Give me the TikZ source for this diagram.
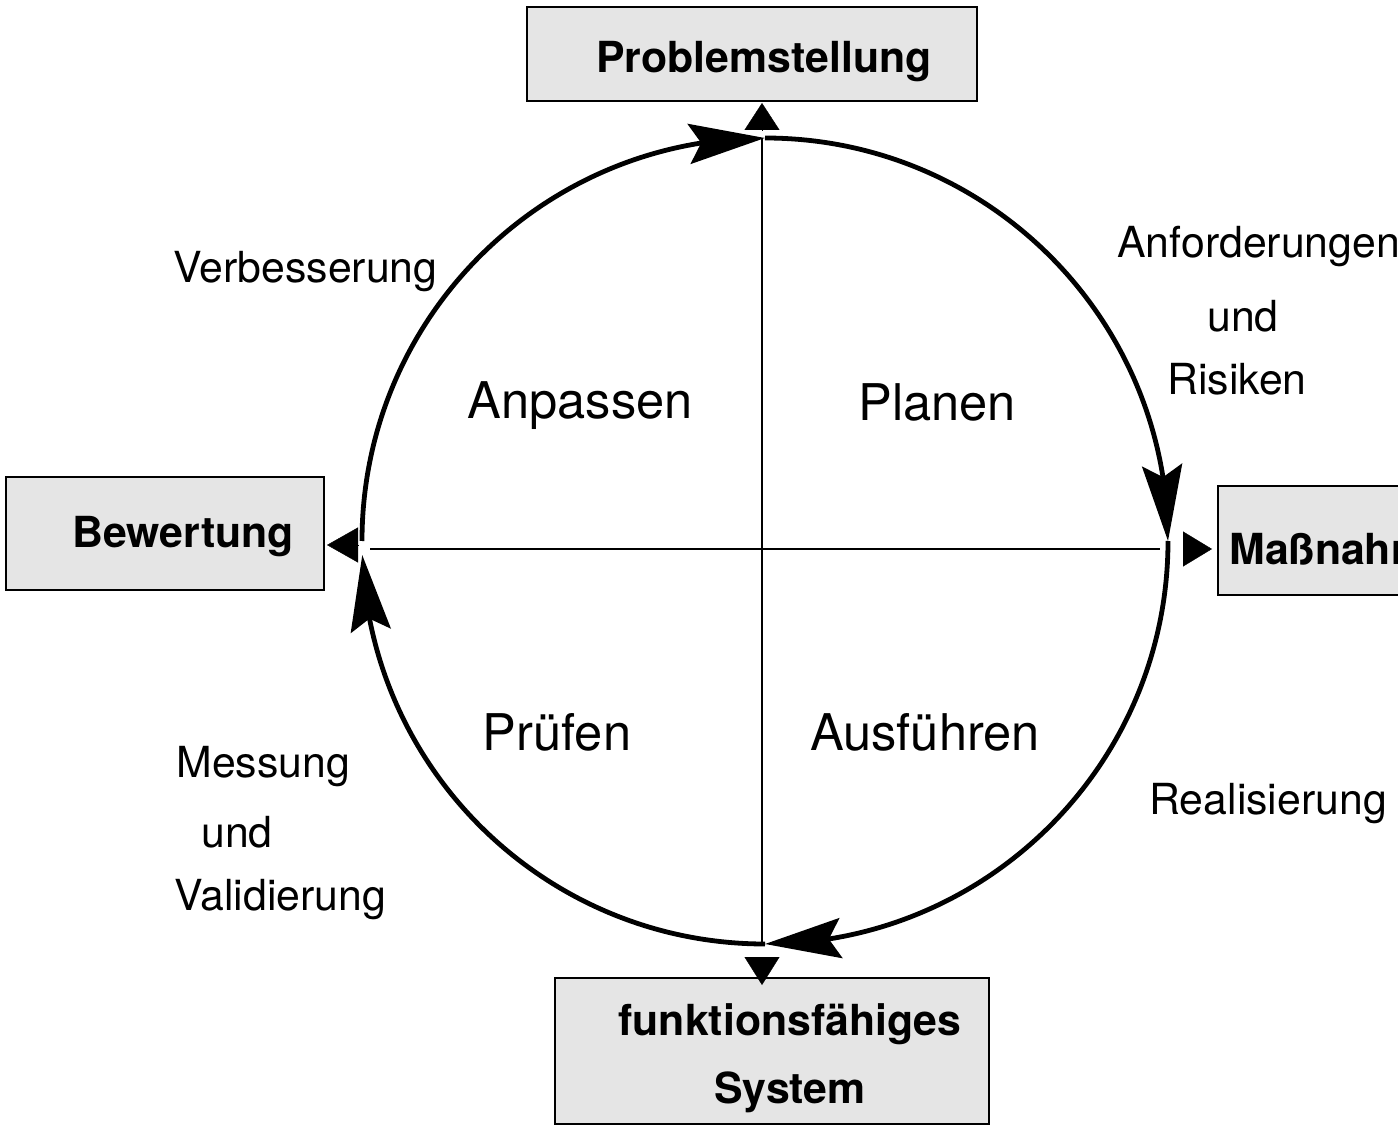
\documentclass[tikz,border=0pt]{standalone}
\usepackage{fontspec}
\setmainfont{TeX Gyre Heros}
\usetikzlibrary{arrows.meta,calc,bending}

\begin{document}
\begin{tikzpicture}[x=0.5pt,y=-0.5pt,
    box/.style={draw=black,line width=1pt,fill=black!10,inner sep=0pt},
    boxtext/.style={font=\fontsize{21.4}{34}\selectfont\bfseries,align=center,inner sep=0pt,yshift=-2pt},
    lbl/.style={font=\fontsize{21.4}{26}\selectfont,inner sep=0pt,yshift=-2pt},
    phase/.style={font=\fontsize{25.3}{30}\selectfont,inner sep=0pt,yshift=-2pt},
    ring/.style={line width=2.4pt,-{Stealth[length=38pt,width=20pt,inset=6pt]}},
    tri/.style={line width=0.2pt,-{Triangle[length=#1,width=17.5pt]}}]
  \useasboundingbox (0,0) rectangle (1398,1128);
  \clip (0,0) rectangle (1398,1128);

  % --- points of the cycle
  \coordinate (c)   at (765,541);
  \coordinate (top) at (762,138);
  \coordinate (bot) at (762,942);
  \coordinate (lft) at (361,545);
  \coordinate (rgt) at (1171,549);
  \coordinate (hl)  at (370,549);
  \coordinate (hr)  at (1160,549);

  % --- boxes
  \node[box,minimum width=225pt,minimum height=47pt] (prob) at (752,54) {};
  \node[boxtext] (probtxt) at (764,58) {Problemstellung};
  \node[box,minimum width=159pt,minimum height=56.5pt] (bew) at (165,533.5) {};
  \node[boxtext] (bewtxt) at (183,533) {Bewertung};
  \node[box,minimum width=161pt,minimum height=54.5pt] (mass) at (1379,540.5) {};
  \node[boxtext,anchor=west] (masstxt) at (1229,545) {Maßnahmen};
  \node[box,minimum width=217pt,minimum height=73pt] (sys) at (772,1051) {};
  \node[boxtext] (systxt) at (790,1054) {funktionsfähiges\\System};

  % --- tips of the boxes
  \coordinate (probtip) at (762,103);
  \coordinate (masstip) at (1212,549);
  \coordinate (bewtip)  at (327,545);
  \coordinate (systip)  at (762,985);

  % --- circle, clockwise
  \draw[ring] ($(c)+(-403,0)$) arc[start angle=180,end angle=90,radius=201.5pt];
  \draw[ring] ($(c)+(0,-403)$) arc[start angle=90,end angle=0,radius=201.5pt];
  \draw[ring] ($(c)+(403,0)$) arc[start angle=0,end angle=-90,radius=201.5pt];
  \draw[ring] ($(c)+(0,403)$) arc[start angle=-90,end angle=-178,radius=201.5pt];

  % --- cross
  \draw[line width=1pt] (top) -- (bot);
  \draw[line width=1pt] (hl) -- (hr);

  % --- triangles towards the boxes
  \draw[tri=13.5pt,shorten <=4pt] (top) -- (probtip);
  \draw[tri=14.5pt,shorten <=6pt] (rgt) -- (masstip);
  \draw[tri=15.5pt,shorten <=1.5pt] (lft) -- (bewtip);
  \draw[tri=14pt,shorten <=7.5pt] (bot) -- (systip);

  % --- phases
  \node[phase] (anp) at (580,402) {Anpassen};
  \node[phase] (plan) at (937,398) {Planen};
  \node[phase] (pruef) at (557,728) {Prüfen};
  \node[phase] (ausf) at (925,728) {Ausführen};

  % --- labels on the arcs
  \node[lbl,anchor=west] (verb) at (173,268) {Verbesserung};
  \node[lbl,anchor=west] (anf) at (1117,243) {Anforderungen};
  \node[lbl] (und1) at (1243,312) {und};
  \node[lbl] (ris) at (1237,375) {Risiken};
  \node[lbl,anchor=west] (mess) at (176,763) {Messung};
  \node[lbl] (und2) at (237,828) {und};
  \node[lbl,anchor=west] (valid) at (174,896) {Validierung};
  \node[lbl,anchor=west] (real) at (1149,800) {Realisierung};
\end{tikzpicture}
\end{document}
